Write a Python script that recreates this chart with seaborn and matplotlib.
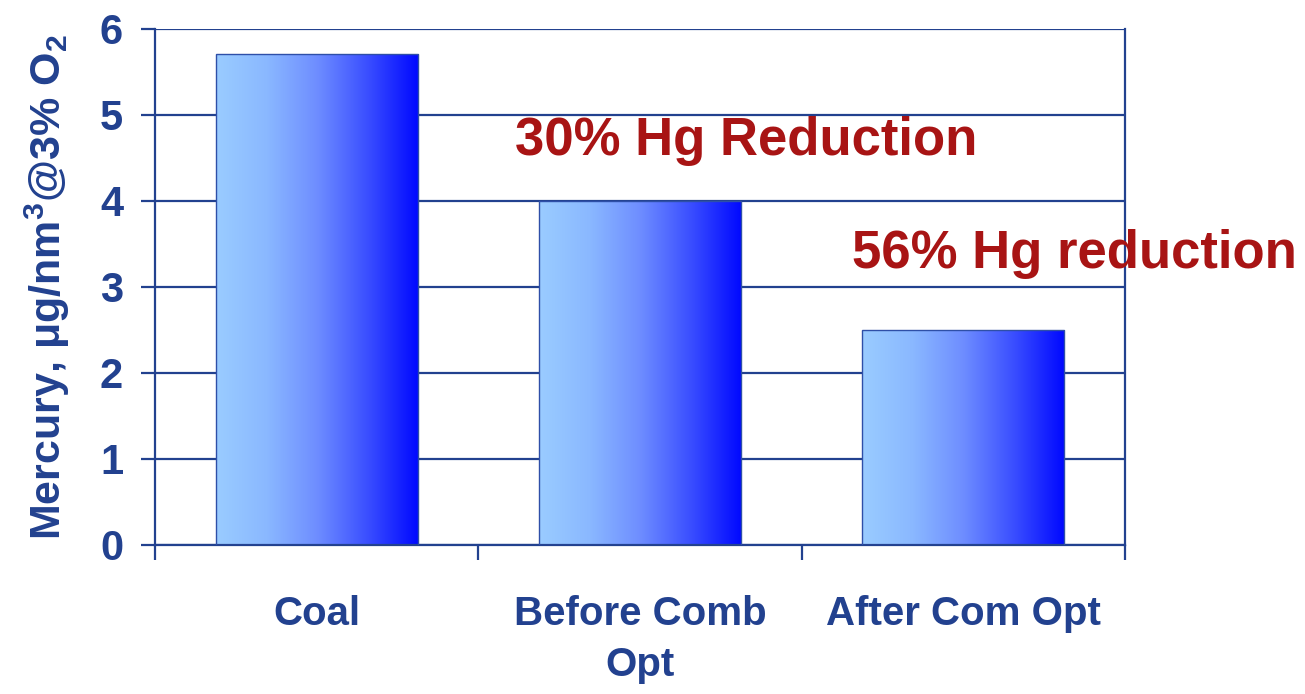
import matplotlib
matplotlib.use("Agg")
import matplotlib.pyplot as plt
import matplotlib.colors as mcolors
from matplotlib.ticker import FixedLocator
import numpy as np
import seaborn as sns

# Chart data
categories = ["Coal", "Before Comb\nOpt", "After Com Opt"]
mercury = [5.7, 4.0, 2.5]
y_ticks = [0, 1, 2, 3, 4, 5, 6]
notes = ["30% Hg Reduction", "56% Hg reduction"]

NAVY = "#22418F"
RED = "#A81414"

sns.set_theme(style="white")
plt.rcParams["font.family"] = ["Liberation Sans", "DejaVu Sans"]
plt.rcParams["font.weight"] = "bold"
plt.rcParams["mathtext.fontset"] = "custom"
plt.rcParams["mathtext.rm"] = "Liberation Sans:bold"
plt.rcParams["mathtext.it"] = "Liberation Sans:bold"
plt.rcParams["mathtext.bf"] = "Liberation Sans:bold"

fig = plt.figure(figsize=(13.05, 6.94), dpi=100)
ax = fig.add_axes([155 / 1305, 1 - 545 / 694, (1125 - 155) / 1305, (545 - 28.5) / 694])

sns.barplot(x=categories, y=mercury, ax=ax, width=0.625, color="#6688ff",
            edgecolor="#2E4FA8", linewidth=1.0, zorder=3)

# Horizontal gradient fill for each bar, clipped to the bar outline
grad = mcolors.LinearSegmentedColormap.from_list(
    "bar_grad", [(0.0, "#9ACCFF"), (0.25, "#8AB8FF"), (0.5, "#6E8DFF"),
                 (0.75, "#3A4EFF"), (1.0, "#0008FF")])
ramp = np.linspace(0, 1, 256).reshape(1, -1)
for patch in ax.patches:
    x0, y0 = patch.get_x(), patch.get_y()
    w, h = patch.get_width(), patch.get_height()
    patch.set_facecolor("none")
    im = ax.imshow(ramp, cmap=grad, aspect="auto", extent=[x0, x0 + w, y0, y0 + h],
                   zorder=2.5, interpolation="bilinear")
    im.set_clip_path(patch)

ax.set_xlim(-0.5, 2.5)
ax.set_ylim(0, 6)
ax.set_yticks(y_ticks)
ax.set_yticklabels([str(t) for t in y_ticks])

# Gridlines and frame
ax.yaxis.grid(True, color=NAVY, linewidth=1.6, zorder=0)
ax.xaxis.grid(False)
ax.set_axisbelow(True)
for side in ["left", "bottom", "right"]:
    ax.spines[side].set_color(NAVY)
    ax.spines[side].set_linewidth(1.6)
ax.spines["top"].set_visible(False)

ax.tick_params(axis="y", which="major", direction="out", length=10, width=1.6,
               color=NAVY, labelcolor=NAVY, labelsize=30, pad=13, left=True)
ax.tick_params(axis="x", which="major", length=0, labelcolor=NAVY, labelsize=29, pad=36)
ax.xaxis.set_minor_locator(FixedLocator([-0.5, 0.5, 1.5, 2.5]))
ax.tick_params(axis="x", which="minor", direction="out", length=11, width=1.6,
               color=NAVY, bottom=True)
for lbl in ax.get_xticklabels():
    lbl.set_linespacing(1.45)
    lbl.set_fontweight("bold")
for lbl in ax.get_yticklabels():
    lbl.set_fontweight("bold")

ax.set_xlabel("")
ax.set_ylabel(r"Mercury, $\mu$g/nm$^3$@3% O$_2$", color=NAVY, fontsize=31,
              fontweight="bold", labelpad=20)

# Reduction annotations
ax.text(0.613, 4.69, notes[0], color=RED, fontsize=38, fontweight="bold",
        ha="left", va="center", zorder=5)
ax.text(1.656, 3.38, notes[1], color=RED, fontsize=38, fontweight="bold",
        ha="left", va="center", zorder=5, clip_on=False)

fig.savefig("out.png", dpi=100, facecolor="white")
